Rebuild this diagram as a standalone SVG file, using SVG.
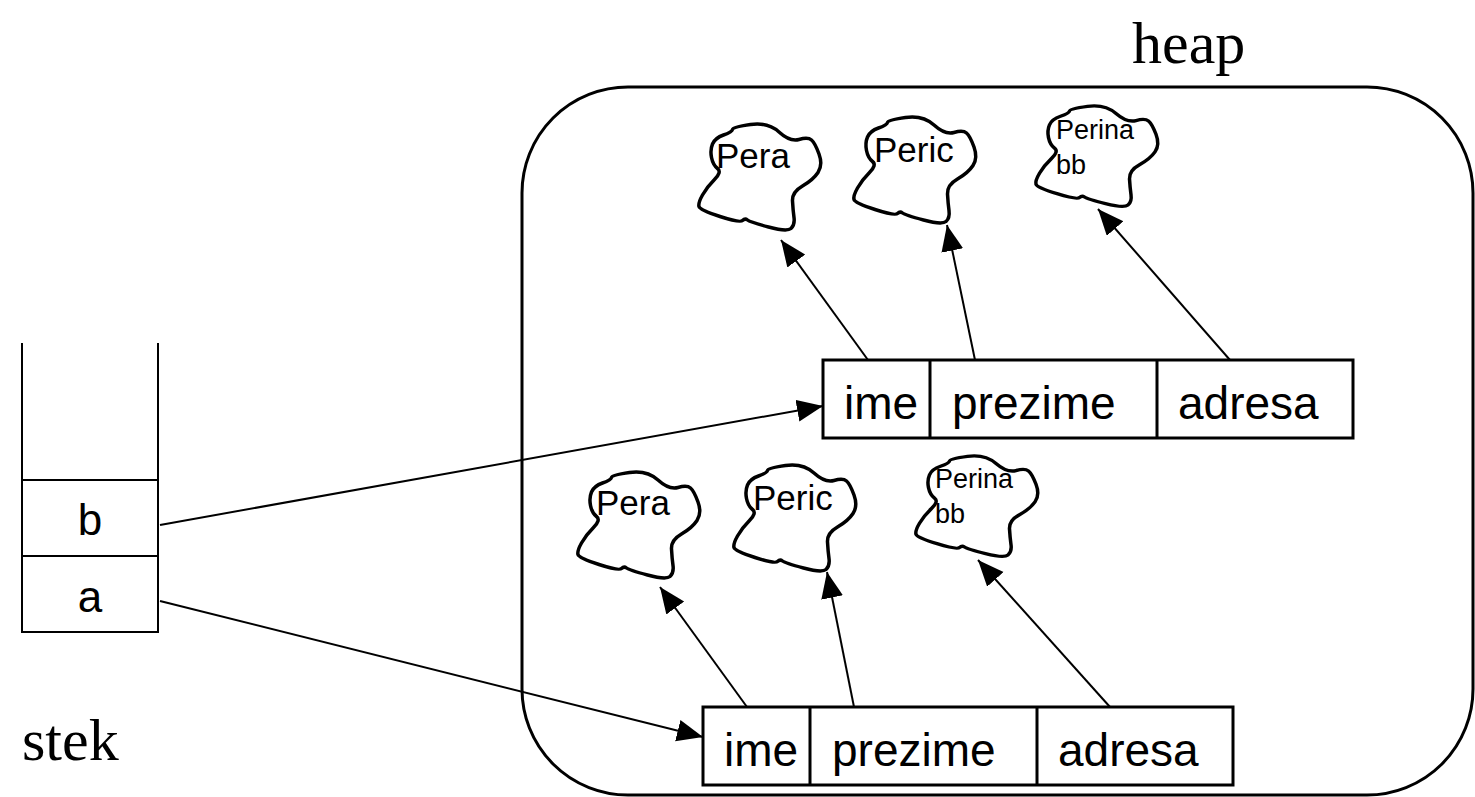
<svg xmlns="http://www.w3.org/2000/svg" width="1475" height="797" viewBox="0 0 1475 797">
  <style>
    .line { stroke: #000; stroke-width: 2; fill: none; }
    .box { stroke: #000; stroke-width: 3; fill: #fff; }
    .cloud { stroke: #000; stroke-width: 3.5; fill: #fff; stroke-linejoin: round; }
    .heap { stroke: #000; stroke-width: 3; fill: none; }
    .sans { font-family: "Liberation Sans", Arial, sans-serif; fill: #000; }
    .serif { font-family: "Liberation Serif", "Times New Roman", serif; fill: #000; font-size: 60px; }
    .field { font-size: 46px; }
    .word { font-size: 35px; }
    .small { font-size: 27px; }
  </style>
  <defs>
    <marker id="arrow" markerUnits="userSpaceOnUse" markerWidth="28" markerHeight="24" refX="26" refY="11" orient="auto">
      <path d="M0,0 L26,11 L0,22 Z" fill="#000"/>
    </marker>
    <path id="cloud-shape" d="M53.5,4.5 Q71,2 82,12 Q93,22 102,19.5 Q111,17 114.5,20 Q118,23 122,34 Q126,45 121,52.5 Q116,60 105.5,66 Q95,72 95.5,81 Q96,90 97,97.5 Q98,105 94,108.5 Q90,112 71.5,107 Q53,102 50.5,100 Q48,98 45.5,100.5 Q43,103 23,96.5 Q3,90 2,86.5 Q1,83 5.5,75 Q10,67 17.5,59.5 Q25,52 20.5,48.5 Q16,45 14.5,37.5 Q13,30 15.5,24 Q18,18 26.5,15 Q35,12 35.5,9.5 Q36,7 53.5,4.5 Z"/>
  </defs>

  <rect width="1475" height="797" fill="#fff"/>

  <!-- heap region -->
  <g id="heap">
    <rect class="heap" x="522" y="87" width="951" height="708" rx="106" ry="106"/>
    <text class="serif" x="1132" y="63">heap</text>
  </g>

  <!-- stack -->
  <g id="stack">
    <path class="line" d="M22,343 V632 H158 V343 M22,480 H158 M22,556 H158"/>
    <text class="sans" x="90" y="535" font-size="44" text-anchor="middle">b</text>
    <text class="sans" x="90" y="612" font-size="44" text-anchor="middle">a</text>
    <text class="serif" x="22" y="760">stek</text>
  </g>

  <!-- string objects, upper record -->
  <g id="cloud-pera-1">
    <use href="#cloud-shape" class="cloud" transform="translate(697,120)"/>
    <text class="sans word" x="716" y="168">Pera</text>
  </g>
  <g id="cloud-peric-1">
    <use href="#cloud-shape" class="cloud" transform="translate(852,113)"/>
    <text class="sans word" x="874" y="162">Peric</text>
  </g>
  <g id="cloud-perina-1">
    <use href="#cloud-shape" class="cloud" transform="translate(1034,102) scale(1,0.95)"/>
    <text class="sans small" x="1056" y="139">Perina</text>
    <text class="sans small" x="1056" y="174">bb</text>
  </g>

  <!-- string objects, lower record -->
  <g id="cloud-pera-2">
    <use href="#cloud-shape" class="cloud" transform="translate(576,468)"/>
    <text class="sans word" x="596" y="515">Pera</text>
  </g>
  <g id="cloud-peric-2">
    <use href="#cloud-shape" class="cloud" transform="translate(732,461)"/>
    <text class="sans word" x="753" y="510">Peric</text>
  </g>
  <g id="cloud-perina-2">
    <use href="#cloud-shape" class="cloud" transform="translate(914,452) scale(1,0.95)"/>
    <text class="sans small" x="935" y="488">Perina</text>
    <text class="sans small" x="935" y="523">bb</text>
  </g>

  <!-- record referenced by b -->
  <g id="record-b">
    <rect class="box" x="823" y="360" width="530" height="78"/>
    <path class="box" d="M930,360 V438 M1157,360 V438"/>
    <text class="sans field" x="844" y="419">ime</text>
    <text class="sans field" x="952" y="419">prezime</text>
    <text class="sans field" x="1178" y="419">adresa</text>
  </g>

  <!-- record referenced by a -->
  <g id="record-a">
    <rect class="box" x="703" y="707" width="530" height="78"/>
    <path class="box" d="M810,707 V785 M1037,707 V785"/>
    <text class="sans field" x="724" y="766">ime</text>
    <text class="sans field" x="832" y="766">prezime</text>
    <text class="sans field" x="1058" y="766">adresa</text>
  </g>

  <!-- references -->
  <g id="connectors">
    <line class="line" x1="160" y1="525" x2="823" y2="406" marker-end="url(#arrow)"/>
    <line class="line" x1="160" y1="601" x2="703" y2="737" marker-end="url(#arrow)"/>
    <line class="line" x1="868" y1="360" x2="781" y2="240" marker-end="url(#arrow)"/>
    <line class="line" x1="975" y1="360" x2="947" y2="225" marker-end="url(#arrow)"/>
    <line class="line" x1="1230" y1="360" x2="1098" y2="209" marker-end="url(#arrow)"/>
    <line class="line" x1="747" y1="707" x2="660" y2="587" marker-end="url(#arrow)"/>
    <line class="line" x1="854" y1="707" x2="827" y2="572" marker-end="url(#arrow)"/>
    <line class="line" x1="1110" y1="707" x2="978" y2="560" marker-end="url(#arrow)"/>
  </g>
</svg>
